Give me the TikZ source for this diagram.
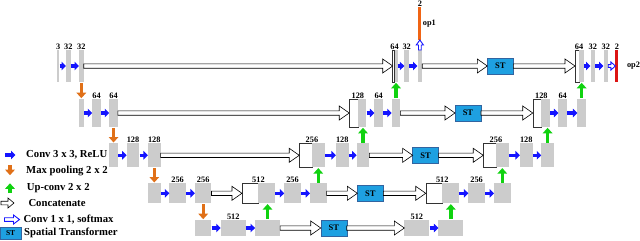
\documentclass[tikz,border=0pt]{standalone}
\usepackage{fontspec}
\setmainfont{Liberation Serif}
\usetikzlibrary{
  arrows.meta,
  positioning
}

\definecolor{barcol}{RGB}{204,204,204}
\definecolor{convblue}{RGB}{20,20,255}
\definecolor{poolorange}{RGB}{224,112,24}
\definecolor{upgreen}{RGB}{16,210,16}
\definecolor{stblue}{RGB}{30,160,225}
\definecolor{stedge}{RGB}{50,100,160}
\definecolor{opone}{RGB}{240,100,20}
\definecolor{optwo}{RGB}{220,20,20}

% flat block arrow from #2 to #3 (same height), #4 shaft half, #5 head half, #6 head length
\newcommand{\blockarrow}[6]{%
  \draw[#1] ([yshift=#4]#2) -- ([xshift=-#6,yshift=#4]#3)
    -- ([xshift=-#6,yshift=#5]#3) -- (#3)
    -- ([xshift=-#6,yshift=-#5]#3) -- ([xshift=-#6,yshift=-#4]#3)
    -- ([yshift=-#4]#2) -- cycle;}

\begin{document}
\begin{tikzpicture}[
  x=1pt, y=-1pt,
  fmap/.style={fill=barcol, inner sep=0pt, outer sep=0pt, minimum width=#1},
  catbox/.style={fill=white, draw=black!80, line width=0.5pt, inner sep=0pt, outer sep=0pt, minimum width=#1},
  h0/.style={minimum height=32pt},
  h1/.style={minimum height=28pt},
  h2/.style={minimum height=24pt},
  h3/.style={minimum height=20pt},
  h4/.style={minimum height=16pt},
  stbox/.style={fill=stblue, draw=stedge, line width=0.5pt, minimum width=26pt, minimum height=16.5pt, inner sep=0pt, outer sep=0pt, font=\fontsize{8.5}{8.5}\selectfont\bfseries},
  lbl/.style={font=\fontsize{8.3}{8.3}\selectfont\bfseries, inner sep=0.4pt},
  legtext/.style={anchor=west, inner sep=0pt, font=\fontsize{10.7}{12}\selectfont\bfseries},
  conv/.style={draw=convblue, line width=3.2pt, -{Triangle[length=4.5pt, width=8.5pt]}, shorten <=0.2pt},
  pool/.style={draw=poolorange, line width=3.4pt, -{Triangle[length=5.5pt, width=9.5pt]}, shorten <=0.8pt, shorten >=0.8pt},
  upconv/.style={draw=upgreen, line width=3.4pt, -{Triangle[length=5.5pt, width=9.5pt]}, shorten <=0.8pt, shorten >=0.8pt},
  catline/.style={fill=white, draw=black, line width=0.6pt},
  softline/.style={fill=white, draw=convblue, line width=0.9pt}
]
  \useasboundingbox (0,0) rectangle (640,241);

  % Row 0
  \node[fmap=2pt, h0, label={[lbl]above:3}] (in0) at (58.3,66) {};
  \node[fmap=4.7pt, h0, right=6.7pt of in0, label={[lbl]above:32}] (e0a) {};
  \node[fmap=4.7pt, h0, right=8.3pt of e0a, label={[lbl]above:32}] (e0b) {};
  \node[catbox=1.8pt, h0, right=309pt of e0b] (catw0) {};
  \node[fmap=3pt, h0, right=0pt of catw0] (catg0) {};
  \node[fmap=4.7pt, h0, right=6.8pt of catg0, label={[lbl]above:32}] (dec0a) {};
  \node[fmap=4.7pt, h0, right=8.5pt of dec0a] (dec0b) {};
  \node[fill=opone, inner sep=0pt, outer sep=0pt, minimum width=3pt, minimum height=33.3pt, above=10pt of dec0b,
    label={[lbl]above:2}, label={[lbl, label distance=1pt]right:op1}] (op1) {};
  \node[stbox, right=65.1pt of dec0b] (tr0) {ST};
  \node[catbox=4pt, h0, right=61.7pt of tr0] (stw0) {};
  \node[fmap=4.7pt, h0, right=0pt of stw0] (stg0) {};
  \node[fmap=4.7pt, h0, right=6.8pt of stg0, label={[lbl]above:32}] (st0a) {};
  \node[fmap=4.7pt, h0, right=8.3pt of st0a, label={[lbl]above:32}] (st0b) {};
  \node[fill=optwo, inner sep=0pt, outer sep=0pt, minimum width=3pt, h0, right=7.2pt of st0b,
    label={[lbl]above:2}, label={[lbl, label distance=8pt]right:op2}] (op2) {};
  \node[lbl, anchor=south] at (catw0.north east) {64};
  \node[lbl, anchor=south] at (stw0.north east) {64};

  % Row 1
  \node[fmap=5pt, h1, below=17pt of e0b] (p1) {};
  \node[fmap=8.6pt, h1, right=8.4pt of p1, label={[lbl]above:64}] (e1a) {};
  \node[fmap=8.6pt, h1, right=8.4pt of e1a, label={[lbl]above:64}] (e1b) {};
  \node[catbox=8.6pt, h1, right=231.4pt of e1b] (catw1) {};
  \node[fmap=8.6pt, h1, right=0pt of catw1] (catg1) {};
  \node[fmap=8.6pt, h1, right=7.9pt of catg1, label={[lbl]above:64}] (dec1a) {};
  \node[fmap=8.6pt, h1, right=8.8pt of dec1a] (dec1b) {};
  \node[stbox, right=54.6pt of dec1b] (tr1) {ST};
  \node[catbox=8.6pt, h1, right=51.8pt of tr1] (stw1) {};
  \node[fmap=8.6pt, h1, right=0pt of stw1] (stg1) {};
  \node[fmap=8.6pt, h1, right=8.4pt of stg1, label={[lbl]above:64}] (st1a) {};
  \node[fmap=8.6pt, h1, right=10.4pt of st1a] (st1b) {};
  \node[lbl, anchor=south] at (catw1.north east) {128};
  \node[lbl, anchor=south] at (stw1.north east) {128};

  % Row 2
  \node[fmap=8.6pt, h2, below=16.3pt of e1b] (p2) {};
  \node[fmap=12.7pt, h2, right=8.8pt of p2, label={[lbl]above:128}] (e2a) {};
  \node[fmap=12.7pt, h2, right=8.6pt of e2a, label={[lbl]above:128}] (e2b) {};
  \node[catbox=12.7pt, h2, right=138.6pt of e2b] (catw2) {};
  \node[fmap=12.7pt, h2, right=0pt of catw2] (catg2) {};
  \node[fmap=12.7pt, h2, right=11.3pt of catg2, label={[lbl]above:128}] (dec2a) {};
  \node[fmap=12.7pt, h2, right=8pt of dec2a] (dec2b) {};
  \node[stbox, right=43.3pt of dec2b] (tr2) {ST};
  \node[catbox=12.7pt, h2, right=44.6pt of tr2] (stw2) {};
  \node[fmap=12.7pt, h2, right=0pt of stw2] (stg2) {};
  \node[fmap=12.7pt, h2, right=11.3pt of stg2, label={[lbl]above:128}] (st2a) {};
  \node[fmap=12.7pt, h2, right=8.6pt of st2a] (st2b) {};
  \node[lbl, anchor=south] at (catw2.north east) {256};
  \node[lbl, anchor=south] at (stw2.north east) {256};

  % Row 3
  \node[fmap=12.7pt, h3, below=16pt of e2b] (p3) {};
  \node[fmap=16.5pt, h3, right=8.7pt of p3, label={[lbl]above:256}] (e3a) {};
  \node[fmap=16.5pt, h3, right=9.1pt of e3a, label={[lbl]above:256}] (e3b) {};
  \node[catbox=16.5pt, h3, right=30.5pt of e3b] (catw3) {};
  \node[fmap=16.5pt, h3, right=0pt of catw3] (catg3) {};
  \node[fmap=16.5pt, h3, right=9.3pt of catg3, label={[lbl]above:256}] (dec3a) {};
  \node[fmap=16.5pt, h3, right=9.3pt of dec3a] (dec3b) {};
  \node[stbox, right=30.8pt of dec3b] (tr3) {ST};
  \node[catbox=16.5pt, h3, right=42.4pt of tr3] (stw3) {};
  \node[fmap=16.5pt, h3, right=0pt of stw3] (stg3) {};
  \node[fmap=16.5pt, h3, right=9.6pt of stg3, label={[lbl]above:256}] (st3a) {};
  \node[fmap=16.5pt, h3, right=9.2pt of st3a] (st3b) {};
  \node[lbl, anchor=south] at (catw3.north east) {512};
  \node[lbl, anchor=south] at (stw3.north east) {512};

  % Row 4
  \node[fmap=16.5pt, h4, below=16.7pt of e3b] (p4) {};
  \node[fmap=25pt, h4, right=9.3pt of p4, label={[lbl]above:512}] (e4a) {};
  \node[fmap=25pt, h4, right=9.3pt of e4a] (e4b) {};
  \node[stbox, h4, right=40.7pt of e4b] (tr4) {ST};
  \node[fmap=25pt, h4, right=57.6pt of tr4, label={[lbl]above:512}] (bot4a) {};
  \node[fmap=25pt, h4, right=9pt of bot4a] (bot4b) {};

  % Conv arrows
  \draw[conv] (in0) -- (e0a);
  \draw[conv] (e0a) -- (e0b);
  \draw[conv] (catg0) -- (dec0a);
  \draw[conv] (dec0a) -- (dec0b);
  \draw[conv] (stg0) -- (st0a);
  \draw[conv] (st0a) -- (st0b);
  \draw[conv] (p1) -- (e1a);
  \draw[conv] (e1a) -- (e1b);
  \draw[conv] (catg1) -- (dec1a);
  \draw[conv] (dec1a) -- (dec1b);
  \draw[conv] (stg1) -- (st1a);
  \draw[conv] (st1a) -- (st1b);
  \draw[conv] (p2) -- (e2a);
  \draw[conv] (e2a) -- (e2b);
  \draw[conv] (catg2) -- (dec2a);
  \draw[conv] (dec2a) -- (dec2b);
  \draw[conv] (stg2) -- (st2a);
  \draw[conv] (st2a) -- (st2b);
  \draw[conv] (p3) -- (e3a);
  \draw[conv] (e3a) -- (e3b);
  \draw[conv] (catg3) -- (dec3a);
  \draw[conv] (dec3a) -- (dec3b);
  \draw[conv] (stg3) -- (st3a);
  \draw[conv] (st3a) -- (st3b);
  \draw[conv] (p4) -- (e4a);
  \draw[conv] (e4a) -- (e4b);
  \draw[conv] (bot4a) -- (bot4b);

  % Max pooling
  \draw[pool] (e0b) -- (p1);
  \draw[pool] (e1b) -- (p2);
  \draw[pool] (e2b) -- (p3);
  \draw[pool] (e3b) -- (p4);

  % Up-conv
  \draw[upconv] (e4b.north) -- (e4b.north |- catg3.south);
  \draw[upconv] (dec3b.north) -- (dec3b.north |- catg2.south);
  \draw[upconv] (dec2b.north) -- (dec2b.north |- catg1.south);
  \draw[upconv] (dec1b.north) -- (dec1b.north |- catg0.south);
  \draw[upconv] (bot4b.north) -- (bot4b.north |- stg3.south);
  \draw[upconv] (st3b.north) -- (st3b.north |- stg2.south);
  \draw[upconv] (st2b.north) -- (st2b.north |- stg1.south);
  \draw[upconv] (st1b.north) -- (st1b.north |- stg0.south);

  % Concatenate
  \blockarrow{catline}{e0b.east}{catw0.west}{2.2pt}{7pt}{10pt}
  \blockarrow{catline}{e1b.east}{catw1.west}{2.2pt}{7pt}{10pt}
  \blockarrow{catline}{e2b.east}{catw2.west}{2.2pt}{7pt}{10pt}
  \blockarrow{catline}{e3b.east}{catw3.west}{2.2pt}{7pt}{10pt}
  \blockarrow{catline}{e4b.east}{tr4.west}{2.2pt}{7pt}{10pt}
  \blockarrow{catline}{tr4.east}{bot4a.west}{2.2pt}{7pt}{10pt}
  \blockarrow{catline}{dec3b.east}{tr3.west}{2.2pt}{7pt}{10pt}
  \blockarrow{catline}{tr3.east}{stw3.west}{2.2pt}{7pt}{10pt}
  \blockarrow{catline}{dec2b.east}{tr2.west}{2.2pt}{7pt}{10pt}
  \blockarrow{catline}{tr2.east}{stw2.west}{2.2pt}{7pt}{10pt}
  \blockarrow{catline}{dec1b.east}{tr1.west}{2.2pt}{7pt}{10pt}
  \blockarrow{catline}{tr1.east}{stw1.west}{2.2pt}{7pt}{10pt}
  \blockarrow{catline}{dec0b.east}{tr0.west}{2.2pt}{7pt}{10pt}
  \blockarrow{catline}{tr0.east}{stw0.west}{2.2pt}{7pt}{10pt}

  % Conv 1x1 outputs
  \draw[softline] ([xshift=-1.4pt]dec0b.north) -- ([xshift=-1.4pt,yshift=-5pt]op1.south)
    -- ([xshift=-3.6pt,yshift=-5pt]op1.south) -- (op1.south)
    -- ([xshift=3.6pt,yshift=-5pt]op1.south) -- ([xshift=1.4pt,yshift=-5pt]op1.south)
    -- ([xshift=1.4pt]dec0b.north) -- cycle;
  \blockarrow{softline}{st0b.east}{op2.west}{1.4pt}{4pt}{4.5pt}

  % Legend
  \coordinate (k1a) at (5,155);
  \coordinate (k1b) at (15.5,155);
  \draw[conv] (k1a) -- (k1b);
  \node[legtext] (t1) at (26,155) {Conv 3 x 3, ReLU};
  \coordinate (k2a) at (10,164.5);
  \coordinate (k2b) at (10,176);
  \draw[pool] (k2a) -- (k2b);
  \node[legtext] (t2) at (26,170.5) {Max pooling 2 x 2};
  \coordinate (k3a) at (10,194);
  \coordinate (k3b) at (10,182.5);
  \draw[upconv] (k3a) -- (k3b);
  \node[legtext] (t3) at (26.7,188.3) {Up-conv 2 x 2};
  \coordinate (k4a) at (1,203);
  \coordinate (k4b) at (14,203);
  \blockarrow{catline}{k4a}{k4b}{1.8pt}{5pt}{6pt}
  \node[legtext] (t4) at (28.3,203) {Concatenate};
  \coordinate (k5a) at (4.5,219.5);
  \coordinate (k5b) at (19.5,219.5);
  \blockarrow{softline}{k5a}{k5b}{1.8pt}{4.5pt}{6pt}
  \node[legtext] (t5) at (23.3,219.5) {Conv 1 x 1, softmax};
  \node[stbox, anchor=north west, minimum width=20.7pt, minimum height=11.7pt,
    font=\fontsize{7.5}{7.5}\selectfont\bfseries] (k6) at (0.3,227.3) {ST};
  \node[legtext] (t6) at (24,233.3) {Spatial Transformer};
\end{tikzpicture}
\end{document}
